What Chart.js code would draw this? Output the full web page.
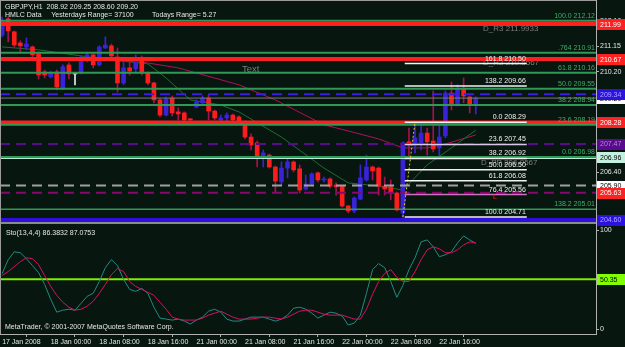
<!DOCTYPE html>
<html>
<head>
<meta charset="utf-8">
<script src="https://cdn.jsdelivr.net/npm/chart.js@4.4.1/dist/chart.umd.min.js"></script>
<style>
  html, body { margin: 0; padding: 0; background: #081610; }
  canvas { display: block; }
</style>
</head>
<body>
<canvas id="grafico" width="625" height="347"></canvas>
<script>
// GBPJPY H1, bars 17 Jan 16:00 .. 22 Jan 22:00
const timeLabels = ['17 Jan 2008', '18 Jan 00:00', '18 Jan 08:00', '18 Jan 16:00', '21 Jan 00:00',
  '21 Jan 08:00', '21 Jan 16:00', '22 Jan 00:00', '22 Jan 08:00', '22 Jan 16:00'];
const timeTickBars = [0, 8, 16, 24, 32, 40, 48, 56, 64, 72];

const openPrices = [211.58, 212.19, 211.70, 211.28, 211.13, 211.13, 210.87, 210.19, 210.00, 210.19,
  209.58, 210.45, 210.11, 210.15, 210.68, 210.83, 210.45, 211.09, 211.17, 210.75,
  209.77, 210.34, 210.30, 210.71, 210.15, 209.77, 209.13, 208.56, 209.20, 208.68,
  208.64, 208.41, 208.87, 209.02, 209.20, 208.71, 208.38, 208.45, 208.56, 208.49,
  208.30, 207.73, 207.51, 206.94, 207.05, 206.60, 206.04, 206.56, 206.79, 206.53,
  205.77, 205.96, 206.38, 206.11, 206.15, 205.92, 205.88, 205.13, 204.94, 205.39,
  206.11, 206.60, 206.56, 205.88, 205.85, 205.62, 204.87, 207.55, 207.43, 207.51,
  207.88, 207.58, 207.32, 207.77, 209.39, 208.94, 209.54, 209.24, 208.92];
const highPrices = [212.26, 212.26, 211.73, 211.36, 211.47, 211.17, 210.94, 210.26, 210.22, 210.26,
  210.45, 210.53, 210.15, 210.79, 210.94, 210.87, 211.17, 211.51, 211.24, 211.09,
  210.71, 210.56, 210.83, 210.79, 210.19, 209.80, 209.17, 209.24, 209.28, 208.83,
  208.68, 208.43, 209.13, 209.28, 209.32, 208.75, 208.56, 208.64, 208.60, 208.53,
  208.34, 207.85, 207.58, 207.24, 207.09, 206.64, 206.79, 206.98, 206.83, 206.68,
  206.30, 206.38, 206.41, 206.22, 206.19, 206.00, 205.90, 205.15, 205.47, 206.68,
  207.05, 206.64, 206.60, 206.22, 206.11, 205.66, 207.55, 208.07, 208.29, 208.22,
  208.07, 209.47, 208.19, 209.47, 209.81, 209.70, 209.96, 209.28, 209.25];
const lowPrices = [211.51, 211.32, 211.13, 210.94, 211.02, 210.64, 209.92, 209.96, 209.96, 209.51,
  209.54, 209.92, 209.70, 210.11, 210.56, 210.34, 210.41, 211.07, 210.71, 209.43,
  209.70, 210.07, 210.15, 210.07, 209.70, 209.02, 208.49, 208.53, 208.53, 208.38,
  208.34, 208.36, 208.83, 208.98, 208.38, 208.38, 208.22, 208.26, 208.30, 208.22,
  207.66, 207.24, 206.60, 206.60, 206.56, 205.66, 205.92, 206.19, 206.41, 205.62,
  205.73, 205.92, 206.04, 206.04, 205.81, 205.54, 205.09, 204.87, 204.87, 205.36,
  206.07, 206.11, 205.54, 205.54, 205.36, 204.94, 204.71, 206.98, 207.13, 207.24,
  207.05, 207.17, 206.98, 207.70, 208.75, 208.90, 209.02, 208.64, 208.60];
const closePrices = [212.07, 211.73, 211.20, 211.17, 211.24, 210.83, 210.07, 210.07, 210.15, 209.62,
  210.38, 210.11, 210.11, 210.71, 210.83, 210.45, 211.13, 211.20, 210.79, 209.77,
  210.34, 210.22, 210.56, 210.15, 209.77, 209.13, 208.56, 209.17, 208.64, 208.60,
  208.38, 208.38, 209.05, 209.20, 208.71, 208.45, 208.45, 208.56, 208.38, 208.30,
  207.73, 207.43, 206.98, 207.13, 206.60, 206.07, 206.56, 206.79, 206.49, 205.73,
  205.96, 206.34, 206.11, 206.15, 205.88, 205.85, 205.13, 204.94, 205.43, 206.19,
  206.60, 206.45, 205.88, 205.77, 205.62, 204.98, 207.51, 207.43, 207.70, 207.88,
  207.55, 207.28, 207.73, 209.39, 208.94, 209.54, 209.28, 208.98, 209.20];

// moving averages, read at a few bars
const maFastBars = [0, 6, 13, 18, 24, 27, 31, 36, 39, 46, 53, 57, 62, 66, 70, 74, 78];
const maFastValues = [211.13, 211.02, 210.79, 210.64, 210.49, 209.96, 209.13, 208.94, 208.68, 207.73,
  206.56, 206.00, 205.88, 205.73, 206.68, 207.32, 207.99];
const maSlowBars = [16, 23, 29, 39, 45, 53, 57, 62, 66, 70, 73, 78];
const maSlowValues = [210.64, 210.56, 210.34, 209.70, 209.13, 208.19, 207.96, 207.66, 207.32, 207.32, 207.47, 207.81];

// Sto(13,4,4)
const stochMain = [56, 70, 78, 77, 71, 64, 57, 45, 30, 17, 19, 20, 19, 26, 33, 36, 48, 62, 70, 64,
  50, 40, 38, 41, 36, 22, 11, 10, 9, 10, 8, 5, 9, 12, 18, 20, 17, 10, 8, 8,
  10, 12, 12, 12, 10, 8, 10, 14, 21, 22, 20, 16, 11, 14, 17, 16, 13, 4, 6, 14,
  36, 60, 66, 62, 48, 32, 44, 60, 72, 88, 90, 83, 73, 75, 78, 87, 94, 90, 86.3832];
const stochSignal = [54, 58, 63, 68, 72, 71, 65, 54, 43, 34, 27, 22, 19, 20, 23, 28, 36, 45, 55, 61,
  58, 48, 43, 40, 37, 34, 27, 20, 12, 10, 9, 9, 9, 11, 14, 16, 18, 15, 12, 10,
  10, 10, 11, 12, 12, 11, 10, 12, 15, 18, 19, 19, 17, 15, 14, 14, 14, 12, 10, 10,
  20, 35, 48, 56, 60, 52, 48, 48, 58, 70, 80, 83, 81, 77, 77, 80, 85, 88, 87.0753];
const stochLevel = 50.35;

// fibo on the 22 Jan swing
const fibLevels = ['0.0', '23.6', '38.2', '50.0', '61.8', '76.4', '100.0', '138.2', '161.8'];
const fibPrices = [208.29, 207.45, 206.92, 206.50, 206.08, 205.56, 204.71, 209.66, 210.50];
const fibFrom = 66.3, fibTo = 86.4;
const fibSwingBars = [66, 68];
const fibSwingPrices = [204.71, 208.29];

// fibo rays 212.12 -> 206.98
const rayLevels = ['100.0', '.764', '61.8', '50.0', '38.2', '23.6', '0.0', '138.2'];
const rayPrices = [212.12, 210.91, 210.16, 209.55, 208.94, 208.19, 206.98, 205.01];

// horizontal lines with price boxes on the axis
const hlinePrices = [211.99, 210.67, 209.34, 209.20, 208.28, 207.47, 206.96, 205.90, 205.63, 204.60];
const hlineStyles = [
  { c: '#ff1f1f', w: 4, d: [], box: '#ff2020', fg: '#ffffff' },
  { c: '#ff1f1f', w: 4, d: [], box: '#ff2020', fg: '#ffffff' },
  { c: '#3a1ee6', w: 2, d: [10, 6], box: '#2c12e0', fg: '#b0a8ff' },
  { c: '#7c7c7c', w: 1, d: [], box: '#ffffff', fg: '#000000' },
  { c: '#ff1f1f', w: 4, d: [], box: '#ff2020', fg: '#ffffff' },
  { c: '#5a0a8c', w: 2, d: [10, 6], box: '#5a0a8c', fg: '#b090d0' },
  { c: '#b8ecd8', w: 3, d: [], box: '#c4f0e0', fg: '#000000' },
  { c: '#a0a0a0', w: 2, d: [10, 6], box: '#ffffff', fg: '#000000' },
  { c: '#86086e', w: 2, d: [10, 6], box: '#ff2020', fg: '#ffffff' },
  { c: '#2c10dc', w: 4, d: [], box: '#2c12e0', fg: '#b0a8ff' }
];

const priceTicks = [212.10, 211.15, 210.20, 209.25, 208.30, 207.35, 206.40, 205.45, 204.50];
const stochTicks = [100, 0];
const mainFloor = 204.45;

const xMin = -0.35, xMax = 97.8;
const yMin = 200.30, yMax = 212.90;
const y2Min = -5.05, y2Max = 332.3;

const bg = '#081610';
const font = '"Liberation Sans", Arial, sans-serif';

const bodyColors = closePrices.map((c, i) => c > openPrices[i] ? '#3a22d8' : (c < openPrices[i] ? '#ff1c1c' : '#e8e8e8'));
const wickColors = closePrices.map((c, i) => c > openPrices[i] ? '#3a22d8' : (c < openPrices[i] ? '#a8104e' : '#e8e8e8'));

function lineSet(data, color, width, dash, axis, order) {
  return {
    type: 'line', data, borderColor: color, borderWidth: width, borderDash: dash || [],
    pointRadius: 0, tension: 0, fill: false, yAxisID: axis || 'y', order: order || 2, clip: 0
  };
}
function hline(v, color, width, dash, x0, x1) {
  return lineSet([{ x: x0 === undefined ? xMin : x0, y: v }, { x: x1 === undefined ? xMax : x1, y: v }], color, width, dash);
}

const datasets = [];
datasets.push({
  type: 'bar', data: highPrices.map((h, i) => ({ x: i, y: [lowPrices[i], h] })),
  backgroundColor: wickColors, barThickness: 1, grouped: false, yAxisID: 'y', order: 9
});
datasets.push({
  type: 'bar', data: openPrices.map((o, i) => ({ x: i, y: [o, closePrices[i]] })),
  backgroundColor: bodyColors, barThickness: 4, minBarLength: 1, grouped: false, yAxisID: 'y', order: 8
});
datasets.push(lineSet(maFastBars.map((b, i) => ({ x: b, y: maFastValues[i] })), '#1c6e30', 1, [], 'y', 10));
datasets.push(lineSet(maSlowBars.map((b, i) => ({ x: b, y: maSlowValues[i] })), '#b0105c', 1, [], 'y', 10));

rayPrices.forEach((p, i) => {
  if (rayLevels[i] === '138.2') datasets.push(hline(p, '#2f9a55', 1.5, []));
  else datasets.push(hline(p, '#2f9a55', 2, []));
});
hlinePrices.forEach((p, i) => datasets.push(hline(p, hlineStyles[i].c, hlineStyles[i].w, hlineStyles[i].d)));
fibPrices.forEach((p, i) => {
  const c = fibLevels[i] === '76.4' ? '#d070c0' : (fibLevels[i] === '23.6' ? '#d8c8e8' : '#f2f2f2');
  datasets.push(Object.assign(hline(p, c, 1.5, [], fibFrom, fibTo), { order: 1 }));
});
datasets.push(Object.assign(lineSet(fibSwingBars.map((b, i) => ({ x: b, y: fibSwingPrices[i] })), '#e4c820', 1, [2, 2]), { order: 1 }));

datasets.push(hline(stochLevel, '#7cf000', 2, []));
datasets[datasets.length - 1].yAxisID = 'y2';
datasets.push(lineSet(stochSignal.map((v, i) => ({ x: i, y: v })), '#d81060', 1, [], 'y2', 1));
datasets.push(lineSet(stochMain.map((v, i) => ({ x: i, y: v })), '#1f8c80', 1, [], 'y2', 1));

function txt(ctx, s, x, y, color, size, align) {
  ctx.font = size + 'px ' + font;
  ctx.fillStyle = color;
  ctx.textAlign = align || 'left';
  ctx.textBaseline = 'middle';
  ctx.fillText(s, x, y);
}

const mtPlugin = {
  id: 'mt4',
  beforeDraw(chart) {
    const ctx = chart.ctx;
    ctx.save();
    ctx.fillStyle = bg;
    ctx.fillRect(0, 0, chart.width, chart.height);
    ctx.restore();
  },
  beforeDatasetsDraw(chart) {
    const ctx = chart.ctx, y = chart.scales.y;
    ctx.save();
    txt(ctx, 'Text', 242, 69, '#7c7c7c', 9.5);
    txt(ctx, 'D_R3 211.9933', 483, y.getPixelForValue(211.9933) + 5, '#7c7c7c', 8);
    txt(ctx, 'D_R2 210.5567', 483, y.getPixelForValue(210.5567) + 1, '#7c7c7c', 8);
    txt(ctx, 'D_PP 206.9567', 481, y.getPixelForValue(206.9567) + 5, '#7c7c7c', 8);
    ctx.restore();
  },
  afterDatasetsDraw(chart) {
    const ctx = chart.ctx, x = chart.scales.x, y = chart.scales.y;
    ctx.save();
    // panel separator
    ctx.fillStyle = '#8a8a8a';
    ctx.fillRect(0, Math.round(y.getPixelForValue(mainFloor)) - 2, x.right, 2);
    const fx = x.getPixelForValue(fibTo) - 1;
    fibPrices.forEach((p, i) => txt(ctx, fibLevels[i] + ' ' + p.toFixed(2), fx, y.getPixelForValue(p) - 5, '#f2f2f2', 7, 'right'));
    rayPrices.forEach((p, i) => txt(ctx, rayLevels[i] + ' ' + p.toFixed(2), x.right - 1, y.getPixelForValue(p) - 5, '#3cb068', 7, 'right'));
    txt(ctx, 'L', 493, y.getPixelForValue(205.45), '#ff2020', 7);
    txt(ctx, 'GBPJPY,H1  208.92 209.25 208.60 209.20', 5, 7, '#e6e6e6', 7);
    txt(ctx, 'HMLC Data     Yesterdays Range= 37100', 5, 15.5, '#e6e6e6', 7);
    txt(ctx, 'Todays Range= 5.27', 152, 15.5, '#e6e6e6', 7);
    txt(ctx, 'Sto(13,4,4) ' + stochMain[stochMain.length - 1] + ' ' + stochSignal[stochSignal.length - 1], 6, 233, '#e6e6e6', 7);
    txt(ctx, 'MetaTrader, \u00a9 2001-2007 MetaQuotes Software Corp.', 5, 327.5, '#e6e6e6', 7);
    ctx.restore();
  },
  afterDraw(chart) {
    const ctx = chart.ctx, x = chart.scales.x, y = chart.scales.y, y2 = chart.scales.y2;
    const ax = x.right;
    ctx.save();
    priceTicks.forEach(p => txt(ctx, p.toFixed(2), ax + 4, y.getPixelForValue(p), '#e6e6e6', 7));
    stochTicks.forEach(v => {
      const py = y2.getPixelForValue(v);
      ctx.fillStyle = '#b0b0b0';
      ctx.fillRect(ax, Math.round(py), 3, 1);
      txt(ctx, String(v), ax + 4, py, '#e6e6e6', 7);
    });
    const box = (v, py, fill, fg) => {
      ctx.fillStyle = fill;
      ctx.fillRect(ax + 1, Math.round(py) - 5, chart.width - ax - 1, 11);
      txt(ctx, v, ax + 4, py + 0.5, fg, 7);
    };
    const order = [3, 2, 0, 1, 4, 5, 6, 7, 8, 9];
    order.forEach(i => box(hlinePrices[i].toFixed(2), y.getPixelForValue(hlinePrices[i]), hlineStyles[i].box, hlineStyles[i].fg));
    box(stochLevel.toFixed(2), y2.getPixelForValue(stochLevel), '#80ff00', '#000000');
    // frame
    ctx.fillStyle = '#9a9a9a';
    ctx.fillRect(0, 0, ax, 1);
    ctx.fillRect(0, 0, 1, x.top);
    ctx.restore();
  }
};

new Chart(document.getElementById('grafico'), {
  type: 'bar',
  data: { datasets },
  plugins: [mtPlugin],
  options: {
    responsive: false,
    animation: false,
    devicePixelRatio: 1,
    layout: { padding: 0 },
    plugins: { legend: { display: false }, tooltip: { enabled: false } },
    events: [],
    scales: {
      x: {
        type: 'linear', min: xMin, max: xMax, offset: false, position: 'bottom',
        grid: { drawOnChartArea: false, drawTicks: true, tickLength: 3, color: '#b0b0b0' },
        border: { display: true, color: '#b0b0b0', width: 1 },
        afterBuildTicks: s => { s.ticks = timeTickBars.map(v => ({ value: v })); },
        afterFit: s => { s.height = 13; },
        ticks: {
          align: 'start', padding: 1, maxRotation: 0, autoSkip: false, color: '#e6e6e6',
          font: { family: font, size: 7 },
          callback: v => timeLabels[timeTickBars.indexOf(v)]
        }
      },
      y: {
        type: 'linear', position: 'right', min: yMin, max: yMax,
        grid: { drawOnChartArea: false, drawTicks: true, tickLength: 3, color: '#b0b0b0' },
        border: { display: true, color: '#b0b0b0', width: 1 },
        afterBuildTicks: s => { s.ticks = priceTicks.map(v => ({ value: v })); },
        afterFit: s => { s.width = 29; },
        ticks: { display: false }
      },
      y2: { type: 'linear', position: 'right', min: y2Min, max: y2Max, display: false }
    }
  }
});
</script>
</body>
</html>
